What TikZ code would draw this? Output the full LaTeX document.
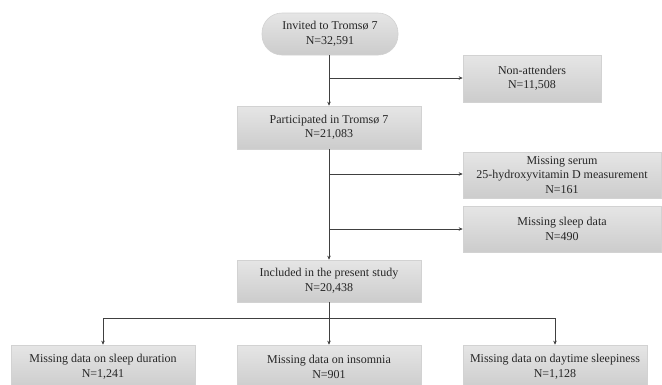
\documentclass[tikz,border=0pt]{standalone}
\usepackage{fontspec}
\setmainfont{Liberation Serif}
\usetikzlibrary{arrows.meta}
\begin{document}
\begin{tikzpicture}[x=1pt,y=-1pt,
  box/.style={draw=gray!35, line width=0.6pt, top color=gray!20, bottom color=gray!40,
    align=center, inner sep=0pt, font=\fontsize{12}{14.5}\selectfont, text=black!85},
  conn/.style={draw=black!75, line width=0.7pt},
  arr/.style={conn, -{Stealth[length=4pt,width=3.5pt]}}]
\useasboundingbox (0,0) rectangle (662,384);
\node[box, rounded corners=20pt, minimum width=136pt, minimum height=42pt] (inv) at (330,34) {Invited to Tromsø 7\\N=32,591};
\node[box, minimum width=138pt, minimum height=47pt] (non) at (532,78.5) {Non-attenders\\N=11,508};
\node[box, minimum width=184pt, minimum height=43pt] (par) at (329,127.5) {Participated in Tromsø 7\\N=21,083};
\node[box, minimum width=198pt, minimum height=46pt] (ser) at (562,175) {Missing serum\\25-hydroxyvitamin D measurement\\N=161};
\node[box, minimum width=198pt, minimum height=46pt] (slp) at (562,229) {Missing sleep data\\N=490};
\node[box, minimum width=184pt, minimum height=42pt] (inc) at (329,281) {Included in the present study\\N=20,438};
\node[box, minimum width=184pt, minimum height=44pt] (dur) at (103,367) {Missing data on sleep duration\\N=1,241};
\node[box, minimum width=184pt, minimum height=44pt] (ins) at (329,367) {Missing data on insomnia\\N=901};
\node[box, minimum width=184pt, minimum height=44pt] (day) at (555,367) {Missing data on daytime sleepiness\\N=1,128};
% connectors
\draw[arr] (inv.south -| par.north) -- (par.north);
\coordinate (b1) at (329,78);
\draw[arr] (b1) -- (b1 -| non.west);
\draw[arr] (par.south) -- (inc.north);
\coordinate (b2) at (329,174);
\coordinate (b3) at (329,229);
\draw[arr] (b2) -- (b2 -| ser.west);
\draw[arr] (b3) -- (b3 -| slp.west);
\coordinate (h) at (329,318);
\draw[conn] (inc.south) -- (h);
\draw[arr] (h) -- (ins.north);
\draw[arr] (h) -| (dur.north);
\draw[arr] (h) -| (day.north);
\end{tikzpicture}
\end{document}
